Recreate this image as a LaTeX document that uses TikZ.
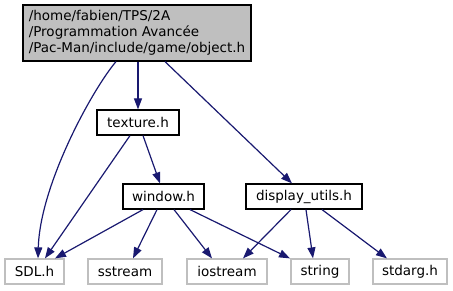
\documentclass[tikz,border=0pt]{standalone}
\usepackage{fontspec}
\setmainfont{DejaVu Sans}
\usetikzlibrary{arrows.meta}
\definecolor{edgeblue}{HTML}{191970}
\definecolor{greyfill}{HTML}{BFBFBF}
\definecolor{greyline}{HTML}{BFBFBF}
\begin{document}
\begin{tikzpicture}[x=1pt,y=-1pt,
  every node/.style={font=\fontsize{13.5}{16}\selectfont},
  filebox/.style={draw=black,line width=1.2pt,fill=white,minimum height=25pt,inner sep=0pt},
  extbox/.style={draw=greyline,line width=1.2pt,fill=white,minimum height=25pt,inner sep=0pt},
  edge/.style={draw=edgeblue,line width=1.2pt,-{Triangle[length=11pt,width=8pt]}}]
\useasboundingbox (0,0) rectangle (453,291);

% the file itself
\node[draw=black,line width=1.2pt,fill=greyfill,minimum width=228pt,minimum height=56pt,
      inner sep=0pt,align=left] (obj) at (137,33)
  {/home/fabien/TPS/2A\\/Programmation Avancée\\/Pac-Man/include/game/object.h};

% project headers
\node[filebox,minimum width=82pt]  (tex)  at (138,122.5) {texture.h};
\node[filebox,minimum width=81pt]  (win)  at (163.5,196.5) {window.h};
\node[filebox,minimum width=116pt] (disp) at (304,196.5) {display\_utils.h};

% external headers
\node[extbox,minimum width=59pt] (sdl)  at (34.5,271.5) {SDL.h};
\node[extbox,minimum width=74pt] (sst)  at (125,271.5) {sstream};
\node[extbox,minimum width=80pt] (ios)  at (227,271.5) {iostream};
\node[extbox,minimum width=58pt] (str)  at (320,271.5) {string};
\node[extbox,minimum width=74pt] (std)  at (410,271.5) {stdarg.h};

% include dependencies
\draw[edge] ([xshift=-21pt]obj.south) .. controls (92,90) and (40,185) .. ([xshift=3.5pt]sdl.north);
\draw[edge] ([xshift=1pt]obj.south) -- (tex.north);
\draw[edge] ([xshift=28pt]obj.south) -- ([xshift=-12pt]disp.north);
\draw[edge] ([xshift=-8pt]tex.south) -- ([xshift=10.5pt]sdl.north);
\draw[edge] ([xshift=5pt]tex.south) -- ([xshift=-3.5pt]win.north);
\draw[edge] ([xshift=-20.5pt]win.south) -- ([xshift=20.5pt]sdl.north);
\draw[edge] ([xshift=-6.5pt]win.south) -- ([xshift=8pt]sst.north);
\draw[edge] ([xshift=10.5pt]win.south) -- ([xshift=-15pt]ios.north);
\draw[edge] ([xshift=26.5pt]win.south) -- ([xshift=-30pt]str.north);
\draw[edge] ([xshift=-13pt]disp.south) -- ([xshift=16pt]ios.north);
\draw[edge] ([xshift=2pt]disp.south) -- ([xshift=-7pt]str.north);
\draw[edge] ([xshift=18pt]disp.south) -- ([xshift=-23pt]std.north);
\end{tikzpicture}
\end{document}
